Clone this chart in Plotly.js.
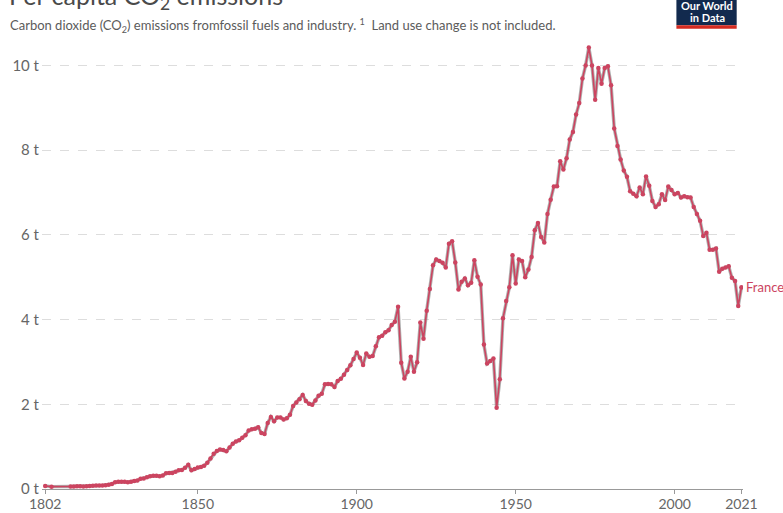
<!DOCTYPE html>
<html>
<head>
<meta charset="utf-8">
<script src="https://cdn.plot.ly/plotly-3.0.1.min.js"></script>
<style>
  html, body { margin: 0; padding: 0; background: #fff; }
  #chart { width: 783px; height: 513px; }
</style>
</head>
<body>
<div id="chart"></div>
<script>
// France, per capita CO2 emissions (tonnes)
let years = [1802, 1804,
  1810, 1811, 1812, 1813, 1814, 1815, 1816, 1817, 1818, 1819,
  1820, 1821, 1822, 1823, 1824, 1825, 1826, 1827, 1828, 1829,
  1830, 1831, 1832, 1833, 1834, 1835, 1836, 1837, 1838, 1839,
  1840, 1841, 1842, 1843, 1844, 1845, 1846, 1847, 1848, 1849,
  1850, 1851, 1852, 1853, 1854, 1855, 1856, 1857, 1858, 1859,
  1860, 1861, 1862, 1863, 1864, 1865, 1866, 1867, 1868, 1869,
  1870, 1871, 1872, 1873, 1874, 1875, 1876, 1877, 1878, 1879,
  1880, 1881, 1882, 1883, 1884, 1885, 1886, 1887, 1888, 1889,
  1890, 1891, 1892, 1893, 1894, 1895, 1896, 1897, 1898, 1899,
  1900, 1901, 1902, 1903, 1904, 1905, 1906, 1907, 1908, 1909,
  1910, 1911, 1912, 1913, 1914, 1915, 1916, 1917, 1918, 1919,
  1920, 1921, 1922, 1923, 1924, 1925, 1926, 1927, 1928, 1929,
  1930, 1931, 1932, 1933, 1934, 1935, 1936, 1937, 1938, 1939,
  1940, 1941, 1942, 1943, 1944, 1945, 1946, 1947, 1948, 1949,
  1950, 1951, 1952, 1953, 1954, 1955, 1956, 1957, 1958, 1959,
  1960, 1961, 1962, 1963, 1964, 1965, 1966, 1967, 1968, 1969,
  1970, 1971, 1972, 1973, 1974, 1975, 1976, 1977, 1978, 1979,
  1980, 1981, 1982, 1983, 1984, 1985, 1986, 1987, 1988, 1989,
  1990, 1991, 1992, 1993, 1994, 1995, 1996, 1997, 1998, 1999,
  2000, 2001, 2002, 2003, 2004, 2005, 2006, 2007, 2008, 2009,
  2010, 2011, 2012, 2013, 2014, 2015, 2016, 2017, 2018, 2019,
  2020, 2021]

let france = [0.07, 0.055,
  0.06, 0.06, 0.065, 0.065, 0.06, 0.065, 0.07, 0.075, 0.08, 0.08,
  0.085, 0.09, 0.10, 0.12, 0.16, 0.17, 0.17, 0.17, 0.16, 0.17,
  0.19, 0.20, 0.24, 0.25, 0.28, 0.30, 0.31, 0.31, 0.30, 0.32,
  0.37, 0.38, 0.38, 0.41, 0.44, 0.45, 0.50, 0.57, 0.44, 0.47,
  0.51, 0.52, 0.55, 0.62, 0.72, 0.83, 0.90, 0.93, 0.92, 0.89,
  0.98, 1.07, 1.12, 1.15, 1.21, 1.27, 1.38, 1.41, 1.42, 1.46,
  1.32, 1.30, 1.56, 1.70, 1.60, 1.69, 1.69, 1.64, 1.67, 1.75,
  1.96, 2.04, 2.12, 2.22, 2.08, 2.01, 1.99, 2.09, 2.20, 2.25,
  2.47, 2.48, 2.47, 2.41, 2.55, 2.60, 2.70, 2.81, 2.92, 3.07,
  3.22, 3.10, 2.93, 3.20, 3.12, 3.14, 3.37, 3.58, 3.62, 3.70,
  3.75, 3.87, 3.95, 4.30, 2.98, 2.61, 2.77, 3.12, 2.77, 2.99,
  3.93, 3.55, 4.21, 4.72, 5.28, 5.42, 5.38, 5.34, 5.23, 5.79,
  5.85, 5.35, 4.71, 4.89, 4.97, 4.81, 4.87, 5.40, 5.01, 4.83,
  3.41, 2.96, 3.02, 3.08, 1.92, 2.59, 4.03, 4.44, 4.76, 5.52,
  4.85, 5.42, 5.38, 5.00, 5.18, 5.48, 6.11, 6.28, 5.95, 5.82,
  6.49, 6.83, 7.14, 7.15, 7.74, 7.54, 7.81, 8.25, 8.43, 8.84,
  9.11, 9.69, 10.0, 10.42, 10.0, 9.19, 9.94, 9.57, 9.94, 9.98,
  9.53, 8.51, 8.10, 7.78, 7.52, 7.37, 7.03, 6.97, 6.91, 7.12,
  6.96, 7.38, 7.16, 6.80, 6.66, 6.72, 6.96, 6.82, 7.14, 7.06,
  6.96, 6.99, 6.88, 6.91, 6.89, 6.88, 6.66, 6.49, 6.33, 5.97,
  6.05, 5.65, 5.65, 5.68, 5.13, 5.20, 5.23, 5.26, 4.99, 4.91,
  4.32, 4.76]

let xTicks = [1802, 1850, 1900, 1950, 2000, 2021]
let yTicks = [0, 2, 4, 6, 8, 10]
let yTickText = ['0 t', '2 t', '4 t', '6 t', '8 t', '10 t']

let red = '#cc4460'

// gray under-stroke gives the shaded edge of the line
let shadow = {
  x: years, y: france,
  mode: 'lines', type: 'scatter',
  line: { color: 'rgba(110,110,110,0.55)', width: 3.4 },
  hoverinfo: 'skip'
}
let line = {
  x: years, y: france,
  mode: 'lines+markers', type: 'scatter',
  line: { color: red, width: 1.6 },
  marker: { color: red, size: 4.5 },
  name: 'France'
}

let layout = {
  width: 783, height: 513,
  margin: { l: 42, r: 40, t: 40, b: 24 },
  paper_bgcolor: '#fff', plot_bgcolor: '#fff',
  showlegend: false,
  hovermode: false,
  font: { family: 'Lato, "Noto Sans", sans-serif', color: '#666' },
  xaxis: {
    range: [1801, 2021.5],
    tickvals: xTicks,
    ticktext: xTicks.map(String),
    showgrid: false, zeroline: false,
    showline: true, linecolor: '#999', linewidth: 1,
    ticks: 'outside', ticklen: 4, tickcolor: '#999',
    ticklabelstandoff: -2,
    tickfont: { size: 14, color: '#666' }
  },
  yaxis: {
    range: [0, 10.6],
    tickvals: yTicks, ticktext: yTickText,
    showgrid: true, gridcolor: '#ddd', griddash: 'dash', gridwidth: 1,
    zeroline: false, showline: false, ticks: '',
    ticklabelstandoff: 2,
    tickfont: { size: 15, color: '#666' }
  },
  annotations: [
    { xref: 'paper', yref: 'paper', x: -0.05, y: 1.089, xanchor: 'left', yanchor: 'bottom',
      yshift: -16, text: 'Per capita CO<sub>2</sub> emissions', showarrow: false,
      font: { size: 25, color: '#4a4a4a', family: 'Lato, sans-serif' } },
    { xref: 'paper', yref: 'paper', x: -0.049, y: 1.089, xanchor: 'left', yanchor: 'top',
      yshift: -14, showarrow: false,
      text: 'Carbon dioxide (CO<sub>2</sub>) emissions fromfossil fuels and industry. <sup>1</sup>  Land use change is not included.',
      font: { size: 13, color: '#5b5b5b' } },
    { x: 2021, y: 4.76, xanchor: 'left', yanchor: 'middle', xshift: 3, showarrow: false,
      text: 'France', font: { size: 13, color: red } },
    { xref: 'paper', yref: 'paper', x: 0.949, y: 1.089, xanchor: 'center', yanchor: 'top',
      yshift: 3, showarrow: false, text: '<b>Our World</b>',
      font: { size: 11, color: '#fff', family: '"Liberation Sans Narrow", Lato, sans-serif' } },
    { xref: 'paper', yref: 'paper', x: 0.949, y: 1.089, xanchor: 'center', yanchor: 'top',
      yshift: -9, showarrow: false, text: '<b>in Data</b>',
      font: { size: 11, color: '#fff', family: '"Liberation Sans Narrow", Lato, sans-serif' } }
  ],
  shapes: [
    { type: 'rect', xref: 'paper', yref: 'paper', x0: 0.905, x1: 0.991, y0: 1.033, y1: 1.095,
      fillcolor: '#122a4e', line: { width: 0 }, layer: 'above' },
    { type: 'rect', xref: 'paper', yref: 'paper', x0: 0.905, x1: 0.991, y0: 1.025, y1: 1.033,
      fillcolor: '#d42b21', line: { width: 0 }, layer: 'above' }
  ]
}

Plotly.newPlot('chart', [shadow, line], layout, { displayModeBar: false, staticPlot: true })
</script>
</body>
</html>
